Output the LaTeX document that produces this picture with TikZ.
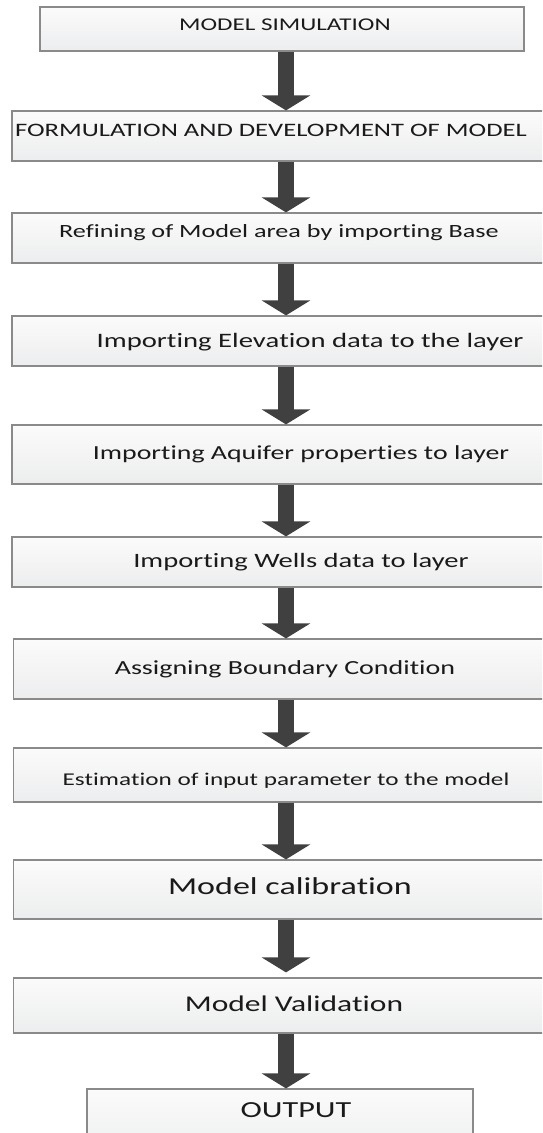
\documentclass[tikz,border=0pt]{standalone}
\usepackage{fontspec}
\setmainfont{Carlito}[FakeStretch=1.4, RawFeature={-liga;-clig;-calt;-dlig}]
\usetikzlibrary{arrows.meta}
\definecolor{boxline}{HTML}{8A8A8A}
\definecolor{boxtop}{HTML}{FBFBFB}
\definecolor{boxbot}{HTML}{ECEDEE}
\definecolor{arrowfill}{HTML}{404040}
\definecolor{ink}{HTML}{1A1A1A}
\newcommand{\fsz}[1]{\fontsize{#1}{#1}\selectfont}
\begin{document}
\begin{tikzpicture}[x=1pt,y=-1pt,
  stage/.style={rectangle, draw=boxline, line width=1.2pt,
    top color=boxtop, bottom color=boxbot, inner sep=0pt},
  wide/.style={stage, minimum width=548pt},
  lbl/.style={anchor=base, text=ink, inner sep=0pt},
  flow/.style={draw=arrowfill, line width=16pt,
    -{Triangle[width=48pt,length=15pt]}}]
\useasboundingbox (0,0) rectangle (542,1133);
\clip (0,0) rectangle (542,1133);

% process boxes
\node[stage, minimum width=484pt, minimum height=44pt] (b1) at (282,29) {};
\node[wide, minimum height=50pt] (b2) at (286,136) {};
\node[wide, minimum height=50pt] (b3) at (286,238) {};
\node[wide, minimum height=50pt] (b4) at (286,341) {};
\node[wide, minimum height=59pt] (b5) at (286,454.5) {};
\node[wide, minimum height=50pt] (b6) at (286,562) {};
\node[wide, minimum height=60pt] (b7) at (287.5,669) {};
\node[wide, minimum height=54pt] (b8) at (287.5,775) {};
\node[wide, minimum height=59pt] (b9) at (287.5,889.5) {};
\node[wide, minimum height=55pt] (b10) at (287.5,1005.5) {};
\node[stage, minimum width=386pt, minimum height=71pt] (b11) at (280,1124.5) {};

% box captions (a zero kern keeps t and i as separate glyphs)
\node[lbl, font=\fsz{17.9}] (t1) at (285,30) {MODEL SIMULATION};
\node[lbl, font=\fsz{19}] (t2) at (271,136) {FORMULATION AND DEVELOPMENT OF MODEL};
\node[lbl, font=\fsz{18.7}] (t3) at (279,237) {Refining of Model area by impor\kern0pt ting Base};
\node[lbl, font=\fsz{20.5}] (t4) at (310,347) {Impor\kern0pt ting Eleva\kern0pt tion data to the layer};
\node[lbl, font=\fsz{19.9}] (t5) at (301,459) {Impor\kern0pt ting Aquifer proper\kern0pt ties to layer};
\node[lbl, font=\fsz{20.4}] (t6) at (301,567) {Impor\kern0pt ting Wells data to layer};
\node[lbl, font=\fsz{20}] (t7) at (285,674) {Assigning Boundary Condi\kern0pt tion};
\node[lbl, font=\fsz{18}] (t8) at (286,785) {Es\kern0pt tima\kern0pt tion of input parameter to the model};
\node[lbl, font=\fsz{24.3}] (t9) at (290,894) {Model calibra\kern0pt tion};
\node[lbl, font=\fsz{22.5}] (t10) at (294,1011) {Model Valida\kern0pt tion};
\node[lbl, font=\fsz{23}] (t11) at (296,1117) {OUTPUT};

% flow arrows along one column
\coordinate (ax) at (286,0);
\draw[flow] (b1.south -| ax) -- (b2.north -| ax);
\draw[flow] (b2.south -| ax) -- (b3.north -| ax);
\draw[flow] (b3.south -| ax) -- (b4.north -| ax);
\draw[flow] (b4.south -| ax) -- (b5.north -| ax);
\draw[flow] (b5.south -| ax) -- (b6.north -| ax);
\draw[flow] (b6.south -| ax) -- (b7.north -| ax);
\draw[flow] (b7.south -| ax) -- (b8.north -| ax);
\draw[flow] (b8.south -| ax) -- (b9.north -| ax);
\draw[flow, shorten >=5pt] (b9.south -| ax) -- (b10.north -| ax);
\draw[flow] (b10.south -| ax) -- (b11.north -| ax);
\end{tikzpicture}
\end{document}
